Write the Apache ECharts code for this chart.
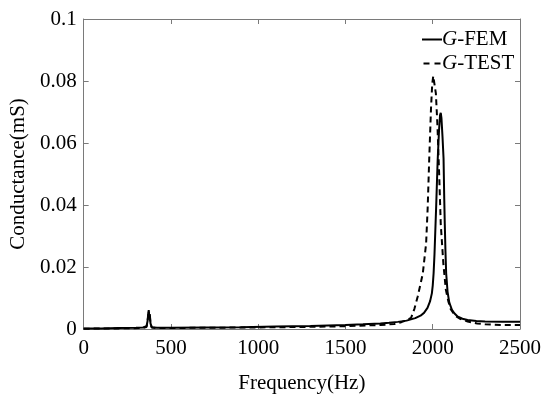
<!DOCTYPE html>
<html>
<head>
<meta charset="utf-8">
<script src="https://cdn.jsdelivr.net/npm/echarts@6/dist/echarts.min.js"></script>
<style>html,body{margin:0;padding:0;background:#fff;}#c{width:550px;height:399px;}</style>
</head>
<body>
<div id="c"></div>
<script>
var xTicks = [0, 500, 1000, 1500, 2000, 2500];
var yTicks = [0, 0.02, 0.04, 0.06, 0.08, 0.1];

var femFreq = [0, 100, 200, 300, 340, 360, 366, 370, 373, 376, 379, 383, 390, 400, 420, 500, 700, 900, 1100, 1300, 1500, 1600, 1700, 1750, 1800, 1850, 1900, 1930, 1950, 1970, 1985, 1995, 2000, 2005, 2010, 2015, 2020, 2028, 2036, 2042, 2046, 2050, 2056, 2062, 2066, 2069, 2073, 2077, 2085, 2095, 2110, 2125, 2141, 2170, 2200, 2250, 2300, 2400, 2500];
var femG    = [0.0002, 0.0002, 0.0003, 0.0004, 0.0005, 0.0009, 0.0025, 0.0050, 0.0061, 0.0038, 0.0048, 0.0018, 0.0006, 0.0003, 0.0004, 0.0004, 0.0005, 0.0006, 0.0008, 0.0010, 0.0013, 0.0015, 0.0018, 0.0020, 0.0023, 0.0027, 0.0035, 0.0043, 0.0052, 0.0068, 0.0090, 0.0115, 0.0140, 0.0180, 0.0240, 0.0320, 0.0400, 0.0540, 0.0640, 0.0690, 0.0697, 0.0680, 0.0620, 0.0550, 0.0420, 0.0340, 0.0250, 0.0180, 0.0120, 0.0085, 0.0062, 0.0050, 0.0041, 0.0033, 0.0029, 0.0026, 0.0024, 0.0023, 0.0023];

var testFreq = [0, 200, 340, 360, 366, 370, 373, 376, 379, 383, 390, 420, 700, 1000, 1300, 1500, 1700, 1780, 1820, 1850, 1876, 1895, 1914, 1930, 1943, 1962, 1971, 1980, 1990, 1997, 2003, 2010, 2018, 2027, 2037, 2046, 2061, 2075, 2090, 2103, 2130, 2160, 2200, 2255, 2300, 2400, 2500];
var testG    = [0.0001, 0.0002, 0.0003, 0.0006, 0.0022, 0.0045, 0.0058, 0.0035, 0.0045, 0.0016, 0.0005, 0.0003, 0.0004, 0.0005, 0.0007, 0.0009, 0.0013, 0.0016, 0.0022, 0.0028, 0.0036, 0.0065, 0.0105, 0.0145, 0.0179, 0.0275, 0.0390, 0.0550, 0.0710, 0.0790, 0.0816, 0.0790, 0.0760, 0.0657, 0.0498, 0.0338, 0.0210, 0.0127, 0.0088, 0.0064, 0.0042, 0.0032, 0.0024, 0.0018, 0.0015, 0.0013, 0.0013];

function pairs(xs, ys) { return xs.map(function (x, i) { return [x, ys[i]]; }); }

var font = 'Liberation Serif';
var axisColor = '#7a7a7a';
var chart = echarts.init(document.getElementById('c'), null, {renderer: 'canvas'});
var baseX = {
  type: 'value', min: xTicks[0], max: xTicks[xTicks.length - 1], interval: 500,
  axisLine: {show: true, onZero: false, lineStyle: {color: axisColor, width: 1}},
  axisTick: {show: true, inside: true, length: 5, lineStyle: {color: axisColor}},
  splitLine: {show: false}
};
var baseY = {
  type: 'value', min: yTicks[0], max: yTicks[yTicks.length - 1], interval: 0.02,
  axisLine: {show: true, onZero: false, lineStyle: {color: axisColor, width: 1}},
  axisTick: {show: true, inside: true, length: 5, lineStyle: {color: axisColor}},
  splitLine: {show: false}
};
chart.setOption({
  animation: false,
  backgroundColor: '#fff',
  grid: {left: 79, right: 30, top: 19, bottom: 66, containLabel: false},
  xAxis: [
    Object.assign({}, baseX, {
      position: 'bottom',
      name: 'Frequency(Hz)', nameLocation: 'middle', nameGap: 44,
      nameTextStyle: {fontFamily: font, fontSize: 21, color: '#000'},
      axisLabel: {fontFamily: font, fontSize: 21, color: '#000', margin: 9,
        formatter: function (v) { return String(v); }}
    }),
    Object.assign({}, baseX, {position: 'top', axisLabel: {show: false}})
  ],
  yAxis: [
    Object.assign({}, baseY, {
      position: 'left',
      name: 'Conductance(mS)', nameLocation: 'middle', nameGap: 50,
      nameTextStyle: {fontFamily: font, fontSize: 21, color: '#000'},
      axisLabel: {fontFamily: font, fontSize: 21, color: '#000', margin: 7,
        formatter: function (v) { return String(+v.toFixed(4)); }}
    }),
    Object.assign({}, baseY, {position: 'right', axisLabel: {show: false}})
  ],
  legend: {
    orient: 'vertical', left: 417, top: 24, itemGap: 3,
    itemWidth: 20, itemHeight: 2,
    data: [
      {name: 'G-FEM', icon: 'path://M0,0h20v2h-20z'},
      {name: 'G-TEST', icon: 'path://M0,0h6v2h-6zM11,0h6v2h-6z'}
    ],
    formatter: function (n) { return '{i|G}' + n.slice(1); },
    textStyle: {
      fontFamily: font, fontSize: 21, color: '#000', padding: [0, 0, 0, -5], lineHeight: 21,
      rich: {i: {fontFamily: font, fontSize: 21, fontStyle: 'italic', color: '#000'}}
    }
  },
  series: [
    {
      name: 'G-FEM', type: 'line', data: pairs(femFreq, femG), showSymbol: false, symbol: 'none',
      lineStyle: {color: '#000', width: 2}, itemStyle: {color: '#000'}
    },
    {
      name: 'G-TEST', type: 'line', data: pairs(testFreq, testG), showSymbol: false, symbol: 'none',
      lineStyle: {color: '#000', width: 2, type: [6, 4]}, itemStyle: {color: '#000'}
    }
  ]
});
</script>
</body>
</html>
